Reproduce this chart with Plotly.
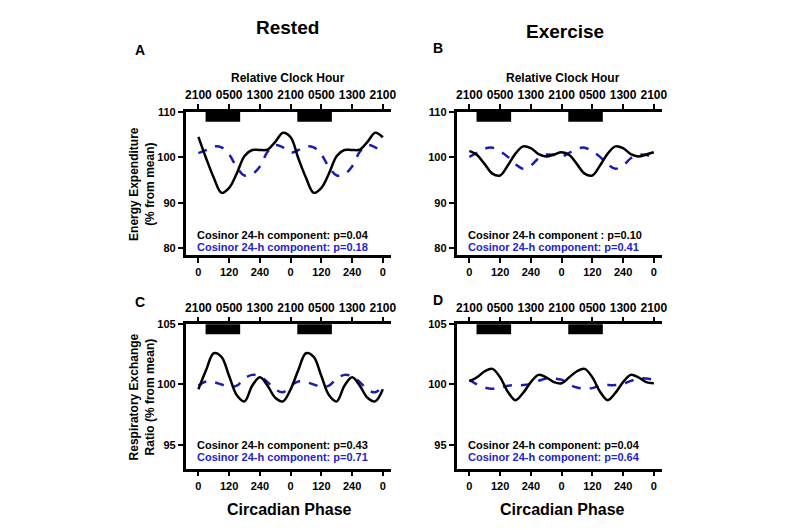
import plotly.graph_objects as go

phase = [0, 30, 60, 90, 120, 150, 180, 210, 240, 270, 300, 330, 360,
         390, 420, 450, 480, 510, 540, 570, 600, 630, 660, 690, 720]

# Panel A: Energy expenditure, rested (% from mean)
ee_rest_black_cycle = [104.5, 99.8, 95.5, 92.2, 93.3, 96.5, 100.3, 101.6, 101.6, 101.7, 103.4, 105.4, 104.4]
ee_rest_blue_cycle = [100.9, 101.6, 102.4, 102.2, 100.6, 97.8, 96.0, 96.3, 98.0, 101.2, 102.7, 102.2, 101.0]
# Panel B: Energy expenditure, exercise
ee_ex_black_cycle = [101.4, 100.5, 98.5, 96.4, 96.0, 98.2, 100.8, 102.4, 102.0, 100.7, 100.2, 100.6, 101.1]
ee_ex_blue_cycle = [100.1, 101.0, 101.9, 102.1, 101.3, 100.1, 98.5, 97.5, 98.2, 99.8, 100.6, 100.5, 100.2]
# Panel C: RER, rested
rer_rest_black_cycle = [99.6, 101.2, 102.6, 102.3, 100.7, 99.1, 98.6, 99.9, 100.6, 99.9, 98.9, 98.6, 99.6]
rer_rest_blue_cycle = [99.9, 100.25, 100.2, 100.0, 99.8, 99.9, 100.5, 100.8, 100.7, 100.2, 99.6, 99.35, 99.9]
# Panel D: RER, exercise
rer_ex_black_cycle = [100.25, 100.6, 101.1, 101.3, 100.6, 99.4, 98.7, 99.3, 100.2, 100.8, 100.6, 100.2, 100.1]
rer_ex_blue_cycle = [100.4, 100.0, 99.75, 99.65, 99.7, 99.9, 99.95, 99.95, 100.05, 100.3, 100.5, 100.5, 100.4]


def double_plot(cycle):
    # data are double plotted: the second day repeats the first
    return cycle + cycle[1:]


bottom_ticks = [0, 120, 240, 360, 480, 600, 720]
bottom_labels = ["0", "120", "240", "0", "120", "240", "0"]
top_labels = ["2100", "0500", "1300", "2100", "0500", "1300", "2100"]

dark_start = [28, 386]
dark_end = [163, 521]

p_black = ["Cosinor 24-h component: p=0.04", "Cosinor 24-h component : p=0.10",
           "Cosinor 24-h component: p=0.43", "Cosinor 24-h component: p=0.04"]
p_blue = ["Cosinor 24-h component: p=0.18", "Cosinor 24-h component: p=0.41",
          "Cosinor 24-h component: p=0.71", "Cosinor 24-h component: p=0.64"]

W, H = 800, 530
FONT = "Liberation Sans, Arial, Helvetica, sans-serif"
BLUE_LINE = "#1c1cb0"
BLUE_TEXT = "#2424cc"


def px(x):
    return x / W


def py(y):
    return 1 - y / H


xdom = {1: [px(187), px(393.5)], 2: [px(460), px(666.5)]}
ydom = {1: [py(252), py(107)], 2: [py(468), py(322)]}

panels = [
    (1, 1, 1, ee_rest_black_cycle, ee_rest_blue_cycle, [78.5, 110], [80, 90, 100, 110]),
    (2, 2, 1, ee_ex_black_cycle, ee_ex_blue_cycle, [78.5, 110], [80, 90, 100, 110]),
    (3, 1, 2, rer_rest_black_cycle, rer_rest_blue_cycle, [93.0, 105], [95, 100, 105]),
    (4, 2, 2, rer_ex_black_cycle, rer_ex_blue_cycle, [93.0, 105], [95, 100, 105]),
]

fig = go.Figure()
layout = dict(
    width=W, height=H, margin=dict(l=0, r=0, t=0, b=0),
    paper_bgcolor="white", plot_bgcolor="white", showlegend=False,
    font=dict(family=FONT, color="black"),
)
annotations = []
shapes = []

tickfont = dict(family=FONT, size=11, color="black", weight="bold")
axis_common = dict(showgrid=False, zeroline=False, showline=True, linecolor="black",
                   linewidth=2.5, ticks="outside", ticklen=5, tickwidth=2,
                   tickcolor="black", tickfont=tickfont, fixedrange=True)

for idx, col, row, black, blue, yr, yt in panels:
    sfx = "" if idx == 1 else str(idx)
    xa, ya = "x" + sfx, "y" + sfx
    top = "x" + str(idx + 4)
    fig.add_trace(go.Scatter(x=phase, y=double_plot(blue), mode="lines",
                             line=dict(color=BLUE_LINE, width=2.5, dash="dash", shape="spline"),
                             xaxis=xa, yaxis=ya, hoverinfo="skip"))
    fig.add_trace(go.Scatter(x=phase, y=double_plot(black), mode="lines",
                             line=dict(color="black", width=2.5, shape="spline"),
                             xaxis=xa, yaxis=ya, hoverinfo="skip"))
    # invisible trace to hold the top (clock hour) axis
    fig.add_trace(go.Scatter(x=[0, 720], y=[yr[1], yr[1]], mode="markers",
                             marker=dict(opacity=0), xaxis=top, yaxis=ya, hoverinfo="skip"))

    layout["xaxis" + sfx] = dict(axis_common, domain=xdom[col], anchor=ya, range=[-50, 750],
                                 tickvals=bottom_ticks, ticktext=bottom_labels)
    layout["yaxis" + sfx] = dict(axis_common, domain=ydom[row], anchor=xa, range=yr,
                                 tickvals=yt)
    layout["xaxis" + str(idx + 4)] = dict(axis_common, overlaying=xa, side="top", anchor=ya,
                                          range=[-50, 750], tickvals=bottom_ticks,
                                          ticktext=top_labels,
                                          tickfont=dict(tickfont, size=12))

    for s, e in zip(dark_start, dark_end):
        shapes.append(dict(type="rect", xref=xa, yref=ya + " domain", x0=s, x1=e,
                           y0=1 - 10 / 145, y1=1, fillcolor="black", line=dict(width=0)))

    tx = 196 if col == 1 else 470
    yb = 232 if row == 1 else 444
    annotations.append(dict(x=px(tx), y=py(yb), xref="paper", yref="paper", text=p_black[idx - 1],
                            showarrow=False, xanchor="left", yanchor="middle",
                            font=dict(family=FONT, size=11, color="black", weight="bold")))
    annotations.append(dict(x=px(tx), y=py(yb + 12), xref="paper", yref="paper", text=p_blue[idx - 1],
                            showarrow=False, xanchor="left", yanchor="middle",
                            font=dict(family=FONT, size=11, color=BLUE_TEXT, weight="bold")))


def label(text, x, y, size, angle=0):
    annotations.append(dict(x=px(x), y=py(y), xref="paper", yref="paper", text=text,
                            showarrow=False, xanchor="center", yanchor="middle", textangle=angle,
                            font=dict(family=FONT, size=size, color="black", weight="bold")))


label("Rested", 290, 22, 19)
label("Exercise", 569, 26, 19)
label("A", 141, 44, 14)
label("B", 441, 42, 14)
label("C", 141, 299, 14)
label("D", 441, 297, 14)
label("Relative Clock Hour", 290, 73, 12)
label("Relative Clock Hour", 567, 73, 12)
label("Circadian Phase", 292, 509, 16)
label("Circadian Phase", 567, 509, 16)
label("Energy Expenditure<br>(% from mean)", 143, 180, 12, -90)
label("Respiratory Exchange<br>Ratio (% from mean)", 143, 395, 12, -90)

layout["annotations"] = annotations
layout["shapes"] = shapes
fig.update_layout(**layout)
fig.write_html("out.html")
